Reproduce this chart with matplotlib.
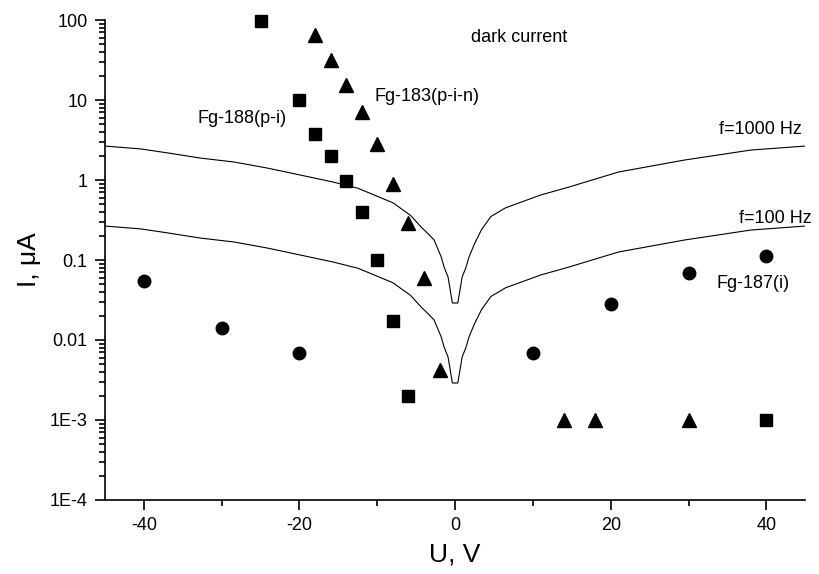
import matplotlib
matplotlib.use('Agg')
import matplotlib.pyplot as plt
from matplotlib.ticker import FixedLocator, FixedFormatter, MultipleLocator, LogLocator, NullFormatter

plt.rcParams['font.family'] = ['Liberation Sans', 'DejaVu Sans']
plt.rcParams['axes.unicode_minus'] = False

# measured dark current, microamps
sq_U = [-25, -20, -18, -16, -14, -12, -10, -8, -6, 40]
sq_I = [98, 10, 3.8, 2.0, 0.97, 0.4, 0.1, 0.0173, 0.002, 0.001]

tri_U = [-18, -16, -14, -12, -10, -8, -6, -4, -2, 14, 18, 30]
tri_I = [66, 32, 15.5, 7.1, 2.85, 0.9, 0.29, 0.06, 0.0042, 0.001, 0.001, 0.001]

circ_U = [-40, -30, -20, 10, 20, 30, 40]
circ_I = [0.055, 0.014, 0.0069, 0.0069, 0.028, 0.069, 0.112]

# capacitive current curves
curve_U = [-45, -40.4, -36.9, -32.7, -28.4, -24.1, -19.8, -15.6, -12.5, -10.4, -8, -5.7, -4.4,
           -3.4, -2.7, -1.8, -1.4, -0.9, -0.35, 0.35, 0.9, 1.4, 1.8, 2.5, 3.4, 4.6, 6.5,
           8.5, 11, 14.5, 21, 29.5, 38, 45]
I_1000 = [2.66, 2.45, 2.18, 1.88, 1.68, 1.41, 1.15, 0.94, 0.79, 0.65, 0.52, 0.36, 0.26,
          0.21, 0.178, 0.11, 0.081, 0.061, 0.029, 0.029, 0.061, 0.081, 0.11, 0.16, 0.24, 0.35, 0.45,
          0.53, 0.65, 0.81, 1.26, 1.78, 2.37, 2.66]
I_100 = [0.266, 0.245, 0.218, 0.188, 0.168, 0.141, 0.115, 0.094, 0.079, 0.065, 0.052, 0.036, 0.026,
         0.021, 0.0178, 0.011, 0.0081, 0.0061, 0.0029, 0.0029, 0.0061, 0.0081, 0.011, 0.016, 0.024, 0.035, 0.045,
         0.053, 0.065, 0.081, 0.126, 0.178, 0.237, 0.266]

yticks = [1e-4, 1e-3, 1e-2, 1e-1, 1, 10, 100]
ylabels = ['1E-4', '1E-3', '0.01', '0.1', '1', '10', '100']

fig = plt.figure(figsize=(8.2, 5.74), dpi=100)
ax = fig.add_axes([0.128, 0.129, 0.854, 0.836])

ax.plot(curve_U, I_1000, '-', color='black', lw=0.8)
ax.plot(curve_U, I_100, '-', color='black', lw=0.8)
ax.plot(sq_U, sq_I, 's', color='black', ms=8, ls='none', clip_on=False)
ax.plot(tri_U, tri_I, '^', color='black', ms=9.5, ls='none', clip_on=False)
ax.plot(circ_U, circ_I, 'o', color='black', ms=9, ls='none', clip_on=False)

ax.set_yscale('log')
ax.set_xlim(-45, 45)
ax.set_ylim(1e-4, 100)

ax.yaxis.set_major_locator(FixedLocator(yticks))
ax.yaxis.set_major_formatter(FixedFormatter(ylabels))
ax.yaxis.set_minor_locator(LogLocator(base=10, subs=range(2, 10)))
ax.yaxis.set_minor_formatter(NullFormatter())
ax.xaxis.set_major_locator(MultipleLocator(20))
ax.xaxis.set_minor_locator(MultipleLocator(10))

for s in ['top', 'right']:
    ax.spines[s].set_visible(False)
for s in ['left', 'bottom']:
    ax.spines[s].set_linewidth(1.2)

ax.tick_params(which='major', direction='out', length=7.5, width=1.2, labelsize=13, pad=5)
ax.tick_params(which='minor', direction='out', length=4, width=1.2)

ax.set_xlabel('U, V', fontsize=19, labelpad=6)
ax.set_ylabel('I, μA', fontsize=19, labelpad=6)

ax.text(2.1, 60, 'dark current', fontsize=13, va='center')
ax.text(-10.4, 11.2, 'Fg-183(p-i-n)', fontsize=13, va='center')
ax.text(-33.05, 5.96, 'Fg-188(p-i)', fontsize=13, va='center')
ax.text(33.9, 4.34, 'f=1000 Hz', fontsize=13, va='center')
ax.text(36.5, 0.326, 'f=100 Hz', fontsize=13, va='center')
ax.text(33.6, 0.0516, 'Fg-187(i)', fontsize=13, va='center')

fig.savefig('out.png', dpi=100)
